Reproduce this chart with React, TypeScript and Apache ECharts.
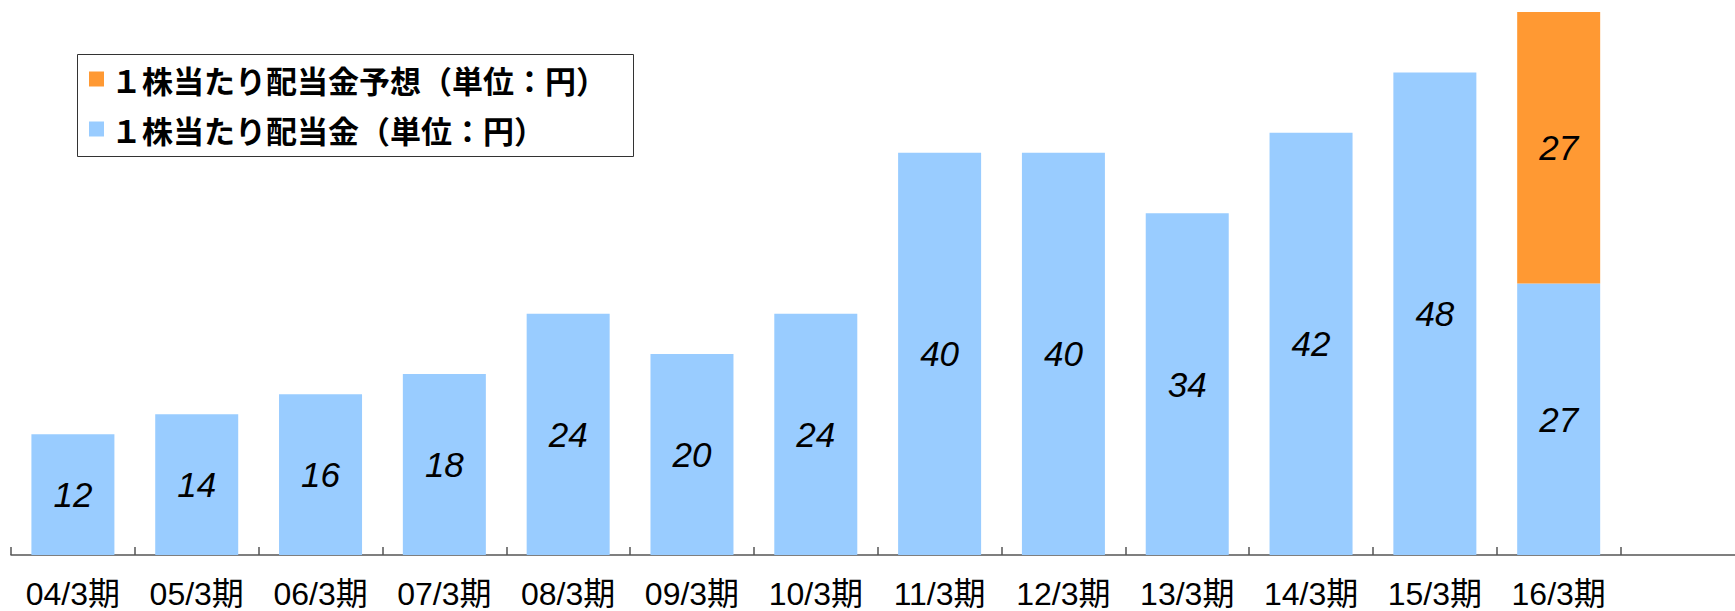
import React, { useEffect, useRef } from "react";
import * as echarts from "echarts";

const categories = ["04/3期", "05/3期", "06/3期", "07/3期", "08/3期", "09/3期", "10/3期", "11/3期", "12/3期", "13/3期", "14/3期", "15/3期", "16/3期", ""];
const dividend = [12, 14, 16, 18, 24, 20, 24, 40, 40, 34, 42, 48, 27, null];
const forecast = [null, null, null, null, null, null, null, null, null, null, null, null, 27, null];
const seriesNames = ["１株当たり配当金予想（単位：円）", "１株当たり配当金（単位：円）"];

export default function App() {
  const ref = useRef<HTMLDivElement>(null);
  useEffect(() => {
    if (!ref.current) return;
    const chart = echarts.init(ref.current, null, { renderer: "svg" });
    const labelStyle = {
      show: true,
      position: "inside",
      fontFamily: "'Liberation Sans', Arial, sans-serif",
      fontStyle: "italic",
      fontSize: 35,
      color: "#000",
    };
    chart.setOption({
      animation: false,
      backgroundColor: "#ffffff",
      grid: {
        left: 11,
        top: 2,
        bottom: 56,
        width: 1733.4,
        containLabel: false,
        outerBoundsMode: "none",
      },
      legend: {
        orient: "vertical",
        left: 89,
        top: 63,
        padding: 0,
        itemWidth: 15,
        itemHeight: 15,
        itemGap: 18,
        icon: "rect",
        data: [seriesNames[0], seriesNames[1]],
        textStyle: {
          fontFamily: "'Noto Sans CJK JP', sans-serif",
          fontWeight: "bold",
          fontSize: 31,
          lineHeight: 32,
          color: "#000",
          padding: [0, 0, 0, 2],
        },
      },
      graphic: [
        {
          type: "rect",
          left: 75,
          top: 52,
          shape: { width: 556, height: 102 },
          style: { fill: "none", stroke: "#333", lineWidth: 1 },
          z: 10,
        },
      ],
      xAxis: {
        type: "category",
        data: categories,
        boundaryGap: true,
        axisLine: { show: true, lineStyle: { color: "#555", width: 1.5 } },
        axisTick: { show: true, inside: true, length: 8, alignWithLabel: false, lineStyle: { color: "#555", width: 1.5 } },
        axisLabel: {
          interval: 0,
          margin: 23,
          fontFamily: "'Liberation Sans', Arial, 'Noto Sans CJK JP', sans-serif",
          fontSize: 32,
          color: "#000",
        },
        splitLine: { show: false },
      },
      yAxis: {
        type: "value",
        min: 0,
        max: 55,
        show: false,
        splitLine: { show: false },
      },
      series: [
        {
          name: seriesNames[1],
          type: "bar",
          stack: "d",
          data: dividend,
          barWidth: 83,
          itemStyle: { color: "#99CCFF" },
          label: labelStyle,
        },
        {
          name: seriesNames[0],
          type: "bar",
          stack: "d",
          data: forecast,
          barWidth: 83,
          itemStyle: { color: "#FF9933" },
          label: labelStyle,
        },
      ],
    });
    return () => chart.dispose();
  }, []);
  return (
    <div
      ref={ref}
      style={{ position: "absolute", left: 0, top: 0, width: 1735, height: 611 }}
    />
  );
}
